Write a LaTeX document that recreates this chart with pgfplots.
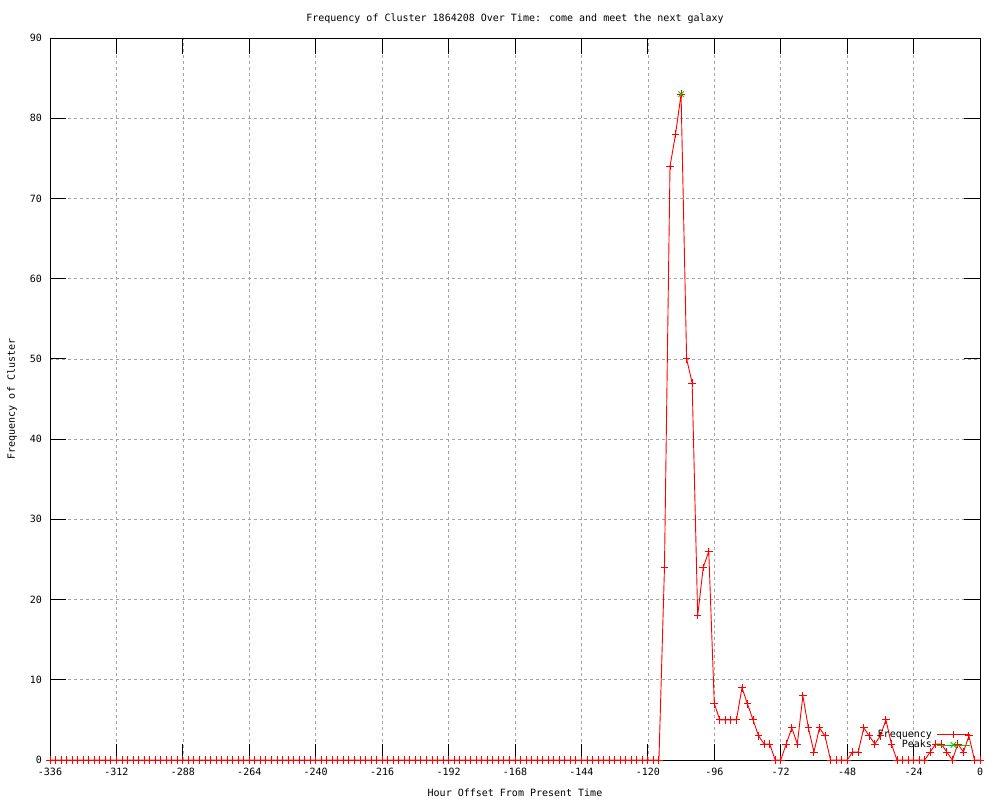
\documentclass[border=0pt]{standalone}
\usepackage{fontspec}
\setmainfont{DejaVu Sans Mono}
\usepackage{pgfplots}
\pgfplotsset{compat=1.18}
\definecolor{gpred}{RGB}{255,0,0}
\definecolor{gpgreen}{RGB}{0,200,0}
\definecolor{gpgrid}{RGB}{165,165,165}
\begin{document}
\fontsize{10bp}{12bp}\selectfont
\begin{tikzpicture}
\useasboundingbox (0,0) rectangle (1000bp,800bp);
\begin{axis}[
  at={(50bp,40bp)}, anchor=south west,
  scale only axis, width=930bp, height=722bp,
  xmin=-336, xmax=0, ymin=0, ymax=90,
  xtick={-336,-312,...,0}, ytick={0,10,...,90},
  /pgf/number format/assume math mode=true,
  /pgf/number format/1000 sep={},
  ticklabel style={font=\fontsize{10bp}{12bp}\selectfont},
  xticklabel style={anchor=center, yshift=-12bp},
  yticklabel style={anchor=east, inner sep=0pt, xshift=-8bp},
  major tick length=16bp,
  tick style={black, line width=0.8bp},
  axis line style={black, line width=0.8bp},
  grid=major,
  major grid style={gpgrid, line width=0.7bp, dash pattern=on 2.5bp off 3.5bp},
  legend cell align=right,
  legend plot pos=right,
  legend style={at={(0.993,0.028)}, anchor=east, draw=none, fill=none,
    font=\fontsize{10bp}{12bp}\selectfont, row sep=-1.5bp, column sep=3bp,
    nodes={inner sep=1.5bp}},
]
\addplot[gpred, line width=0.9bp, mark=+, mark size=3.8bp,
  mark options={gpred, solid, line width=0.9bp},
  legend image code/.code={\draw[mark repeat=2,mark phase=2] plot coordinates {(0bp,0bp) (16.5bp,0bp) (33bp,0bp)};}]
  coordinates {
(-336,0)(-334,0)(-332,0)(-330,0)(-328,0)(-326,0)(-324,0)(-322,0)(-320,0)(-318,0)
(-316,0)(-314,0)(-312,0)(-310,0)(-308,0)(-306,0)(-304,0)(-302,0)(-300,0)(-298,0)
(-296,0)(-294,0)(-292,0)(-290,0)(-288,0)(-286,0)(-284,0)(-282,0)(-280,0)(-278,0)
(-276,0)(-274,0)(-272,0)(-270,0)(-268,0)(-266,0)(-264,0)(-262,0)(-260,0)(-258,0)
(-256,0)(-254,0)(-252,0)(-250,0)(-248,0)(-246,0)(-244,0)(-242,0)(-240,0)(-238,0)
(-236,0)(-234,0)(-232,0)(-230,0)(-228,0)(-226,0)(-224,0)(-222,0)(-220,0)(-218,0)
(-216,0)(-214,0)(-212,0)(-210,0)(-208,0)(-206,0)(-204,0)(-202,0)(-200,0)(-198,0)
(-196,0)(-194,0)(-192,0)(-190,0)(-188,0)(-186,0)(-184,0)(-182,0)(-180,0)(-178,0)
(-176,0)(-174,0)(-172,0)(-170,0)(-168,0)(-166,0)(-164,0)(-162,0)(-160,0)(-158,0)
(-156,0)(-154,0)(-152,0)(-150,0)(-148,0)(-146,0)(-144,0)(-142,0)(-140,0)(-138,0)
(-136,0)(-134,0)(-132,0)(-130,0)(-128,0)(-126,0)(-124,0)(-122,0)(-120,0)(-118,0)
(-116,0)(-114,24)(-112,74)(-110,78)(-108,83)(-106,50)(-104,47)(-102,18)(-100,24)(-98,26)
(-96,7)(-94,5)(-92,5)(-90,5)(-88,5)(-86,9)(-84,7)(-82,5)(-80,3)(-78,2)
(-76,2)(-74,0)(-72,0)(-70,2)(-68,4)(-66,2)(-64,8)(-62,4)(-60,1)(-58,4)
(-56,3)(-54,0)(-52,0)(-50,0)(-48,0)(-46,1)(-44,1)(-42,4)(-40,3)(-38,2)
(-36,3)(-34,5)(-32,2)(-30,0)(-28,0)(-26,0)(-24,0)(-22,0)(-20,0)(-18,1)
(-16,2)(-14,2)(-12,1)(-10,0)(-8,2)(-6,1)(-4,3)(-2,0)(0,0)
  };
\addlegendentry{Frequency}
\addplot[gpgreen, only marks, mark=x, mark size=3.8bp, mark options={gpgreen, solid, line width=0.9bp},
  legend image code/.code={\path (0bp,0bp) -- (33bp,0bp); \draw[only marks] plot coordinates {(16.5bp,0bp)};}]
  coordinates {(-108,83)};
\addlegendentry{Peaks}
\end{axis}
\node at (515bp,781bp) {Frequency of Cluster 1864208 Over Time: come and meet the next galaxy};
\node at (515bp,7bp) {Hour Offset From Present Time};
\node[rotate=90] at (12bp,401bp) {Frequency of Cluster};
\end{tikzpicture}
\end{document}
